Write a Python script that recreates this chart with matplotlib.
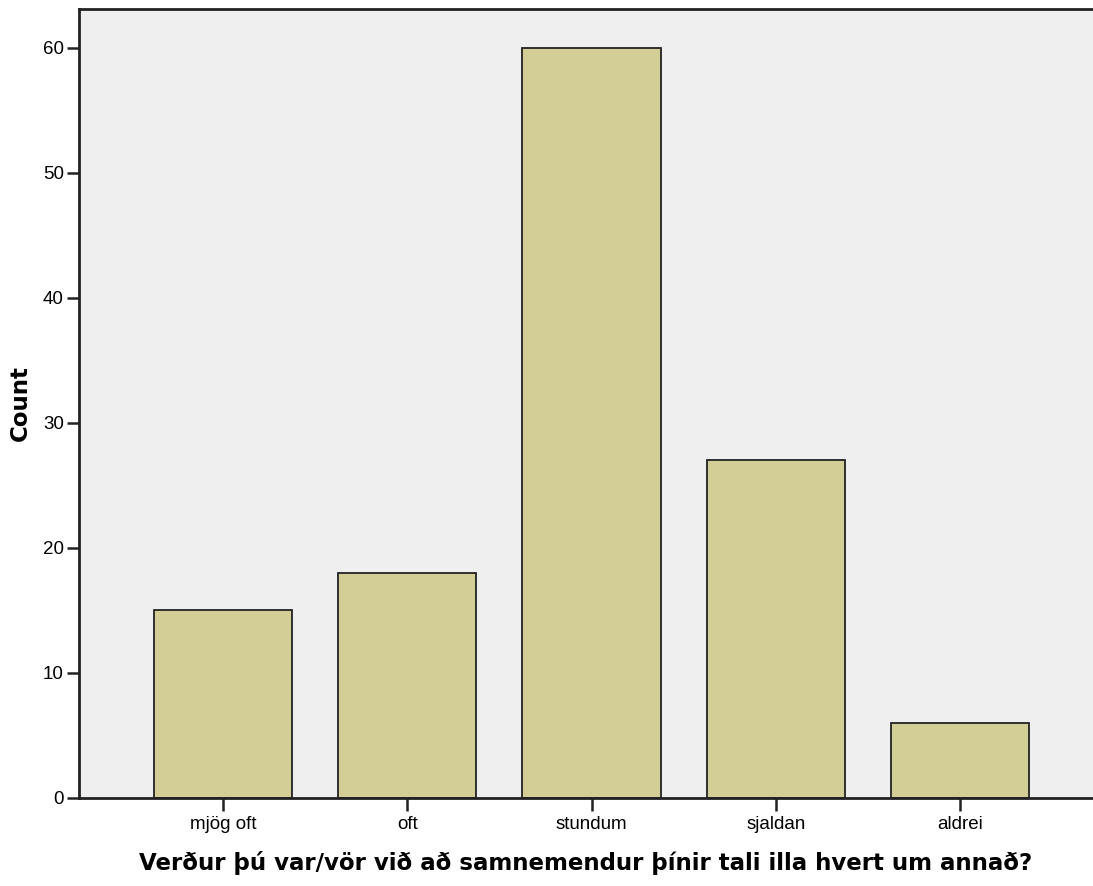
import numpy as np
import matplotlib.pyplot as plt

categories = ['mjög oft', 'oft', 'stundum', 'sjaldan', 'aldrei']
counts = [15, 18, 60, 27, 6]
y_ticks = [0, 10, 20, 30, 40, 50, 60]

plt.rcParams['font.family'] = ['Liberation Sans', 'DejaVu Sans']

fig = plt.figure(figsize=(10.93, 8.86), dpi=100)
ax = fig.add_axes([79 / 1093, 88 / 886, 1 - 79 / 1093, (798 - 9) / 886])
ax.set_facecolor('#EFEFEF')

x = np.arange(len(categories))
ax.bar(x, counts, width=0.75, color='#D3CE96', edgecolor='#222222', linewidth=1.3, zorder=2)

ax.set_xlim(-0.78, 4.72)
ax.set_ylim(0, 63.1)
ax.set_xticks(x)
ax.set_xticklabels(categories, fontsize=13.5)
ax.set_yticks(y_ticks)
ax.set_yticklabels([str(v) for v in y_ticks], fontsize=13.5)
ax.tick_params(axis='both', direction='out', length=9, width=1.8, color='#222222')
ax.tick_params(axis='x', pad=4)
ax.tick_params(axis='y', pad=2)

for side in ['left', 'bottom', 'top']:
    ax.spines[side].set_linewidth(2)
    ax.spines[side].set_color('#222222')
ax.spines['right'].set_visible(False)

ax.set_ylabel('Count', fontsize=16.5, fontweight='bold', family='DejaVu Sans', labelpad=8)
ax.set_xlabel('Verður þú var/vör við að samnemendur þínir tali illa hvert um annað?',
              fontsize=16.5, fontweight='bold', family='DejaVu Sans', labelpad=13)

fig.savefig('out.png', dpi=100)
